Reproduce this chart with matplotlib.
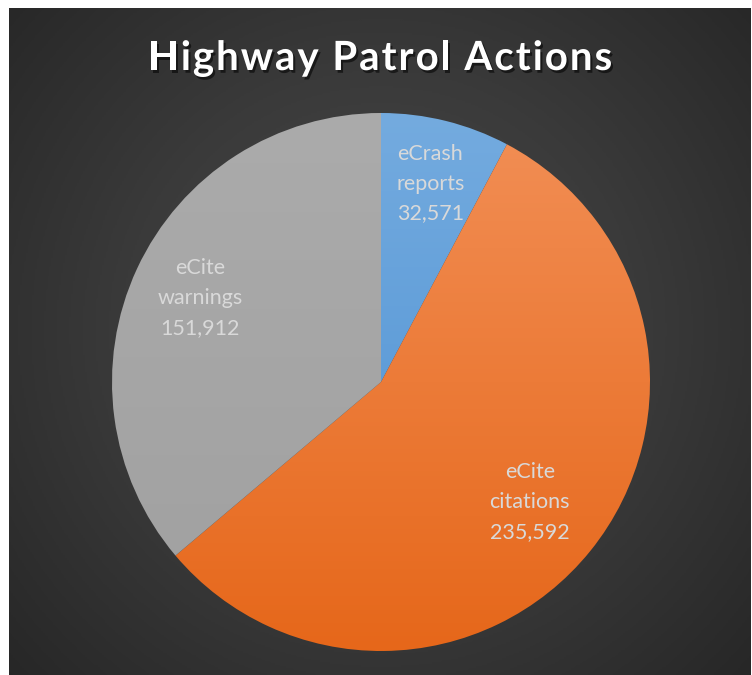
import numpy as np
import matplotlib
matplotlib.use("Agg")
import matplotlib.pyplot as plt
import matplotlib.patheffects as pe
from matplotlib.colors import LinearSegmentedColormap
from matplotlib.font_manager import FontProperties

# ---- data ----
title = "Highway Patrol Actions"
categories = ["eCrash\nreports", "eCite\ncitations", "eCite\nwarnings"]
values = [32571, 235592, 151912]
top_colors = ["#74ABDF", "#F28F56", "#ABABAB"]
bottom_colors = ["#4A8FD2", "#E6671A", "#A0A0A0"]
label_dist = [0.76, 0.71, 0.74]

W, H = 752, 675
fig = plt.figure(figsize=(W / 100, H / 100), dpi=100, facecolor="white")
ax = fig.add_axes([0, 0, 1, 1])
ax.set_xlim(0, W)
ax.set_ylim(0, H)
ax.set_aspect("equal")
ax.axis("off")

# background panel with radial gradient
x0, x1, y0, y1 = 9, 751, 0, H - 8
gx = np.linspace(x0, x1, 400)
gy = np.linspace(y0, y1, 400)
GX, GY = np.meshgrid(gx, gy)
cx, cy = 381, H - 330
d = np.sqrt((GX - cx) ** 2 + (GY - cy) ** 2) / 520.0
d = np.clip(d, 0, 1)
bg_cmap = LinearSegmentedColormap.from_list("bg", ["#4A4A4A", "#3A3A3A", "#262626"])
ax.imshow(d, cmap=bg_cmap, extent=[x0, x1, y0, y1], origin="lower",
          aspect="auto", zorder=0, vmin=0, vmax=1)

# pie
center = (381, H - 382)
radius = 269
labels = [f"{c}\n{v:,}" for c, v in zip(categories, values)]
wedges, texts = ax.pie(values, labels=labels, startangle=90, counterclock=False,
                       center=center, radius=radius, labeldistance=0.74,
                       textprops=dict(color="#D9D9D9", fontsize=15.5,
                                      family="Lato", linespacing=1.62),
                       wedgeprops=dict(linewidth=0, edgecolor="none"),
                       frame=True)
ax.set_xlim(0, W)
ax.set_ylim(0, H)
ax.axis("off")

for w, t, tc, bc, ld in zip(wedges, texts, top_colors, bottom_colors, label_dist):
    w.set_facecolor("none")
    th = np.deg2rad((w.theta1 + w.theta2) / 2)
    t.set_position((center[0] + ld * radius * np.cos(th),
                    center[1] + ld * radius * np.sin(th)))
    t.set_ha("center")
    t.set_va("center")
    t.set_zorder(5)
    cmap = LinearSegmentedColormap.from_list("g", [bc, tc])
    grad = np.linspace(0, 1, 256).reshape(-1, 1)
    im = ax.imshow(grad, cmap=cmap, origin="lower",
                   extent=[center[0] - radius, center[0] + radius,
                           center[1] - radius, center[1] + radius],
                   aspect="auto", zorder=2)
    im.set_clip_path(w)

# title with letter spacing
renderer = fig.canvas.get_renderer()
prop = FontProperties(family="Lato", weight="bold", size=29)
spacing = 1.95  # pixels between letters
def adv(s):
    if not s:
        return 0.0
    w_, h_, d_ = renderer.get_text_width_height_descent(s.replace(" ", "\u00a0"), prop, ismath=False)
    return w_
total = adv(title) + spacing * (len(title) - 1)
start = 380 - total / 2
shadow = [pe.withSimplePatchShadow(offset=(1.5, -2), shadow_rgbFace="black", alpha=0.55)]
for i, ch in enumerate(title):
    if ch == " ":
        continue
    xpos = start + adv(title[:i]) + spacing * i
    ax.text(xpos, H - 55, ch, ha="left", va="center_baseline", color="white",
            fontproperties=prop, zorder=6, path_effects=shadow)

fig.savefig("out.png", dpi=100, facecolor="white")
